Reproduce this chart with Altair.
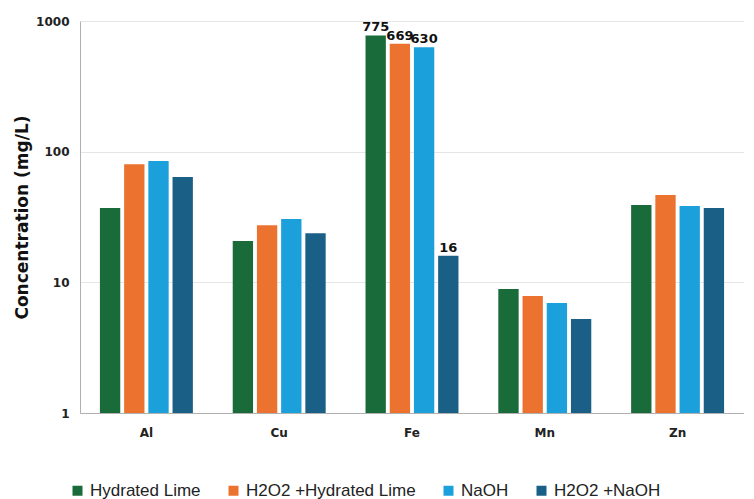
import altair as alt
import pandas as pd

metals = ["Al", "Cu", "Fe", "Mn", "Zn"]
treatments = ["Hydrated Lime", "H2O2 +Hydrated Lime", "NaOH", "H2O2 +NaOH"]
colors = ["#1a6b3a", "#ec7230", "#1ca0db", "#1a5f86"]
hydrated_lime = [37, 20.7, 775, 8.9, 39]
h2o2_lime = [80, 27.4, 669, 7.85, 46.5]
naoh = [85, 30.5, 630, 6.95, 38.4]
h2o2_naoh = [64, 23.8, 16, 5.25, 37]
labels_fe = ["775", "669", "630", "16"]

series = [hydrated_lime, h2o2_lime, naoh, h2o2_naoh]
rows = []
for t, vals in zip(treatments, series):
    for m, v in zip(metals, vals):
        rows.append({"metal": m, "treatment": t, "value": v, "base": 1})
df = pd.DataFrame(rows)
df["label"] = ""
for t, lab in zip(treatments, labels_fe):
    df.loc[(df.metal == "Fe") & (df.treatment == t), "label"] = lab

base = alt.Chart(df).encode(
    x=alt.X("metal:N", sort=metals, title=None,
            scale=alt.Scale(paddingInner=0.3, paddingOuter=0.15),
            axis=alt.Axis(labelAngle=0, labelFontWeight="bold", labelFontSize=12,
                          labelColor="#222", labelPadding=14, ticks=False,
                          domainColor="#b0b0b0", labelFont="DejaVu Sans")),
    xOffset=alt.XOffset("treatment:N", sort=treatments,
                        scale=alt.Scale(paddingInner=0.16)),
    y=alt.Y("value:Q", title="Concentration (mg/L)",
            scale=alt.Scale(type="log", domain=[1, 1000]),
            axis=alt.Axis(values=[1, 10, 100, 1000], format="d", ticks=False,
                          labelFontWeight="bold", labelFontSize=12, labelColor="#222",
                          labelFont="DejaVu Sans", labelPadding=11,
                          titleFontSize=17, titleFontWeight="bold", titleColor="#111",
                          titleFont="DejaVu Sans", titlePadding=4,
                          domainColor="#b0b0b0", gridColor="#e6e6e6")),
)

bars = base.mark_bar().encode(
    y2="base:Q",
    color=alt.Color("treatment:N", sort=treatments,
                    scale=alt.Scale(domain=treatments, range=colors),
                    legend=alt.Legend(title=None, orient="none", direction="horizontal",
                                      legendX=-11, legendY=461, symbolType="square",
                                      symbolSize=100, symbolStrokeWidth=0,
                                      labelFontSize=17, labelColor="#222",
                                      labelLimit=400,
                                      labelFont="Liberation Sans", columnPadding=24,
                                      labelOffset=4))
)

text = base.mark_text(dy=-8, fontWeight="bold", fontSize=13, color="#111",
                      font="DejaVu Sans").encode(text="label:N")

chart = alt.layer(bars, text).properties(
    width=664, height=392,
    padding={"left": 5, "top": 7, "right": 0, "bottom": 0},
).configure_view(stroke=None)

chart.save("out.html", embed_options={"renderer": "svg", "actions": False})
